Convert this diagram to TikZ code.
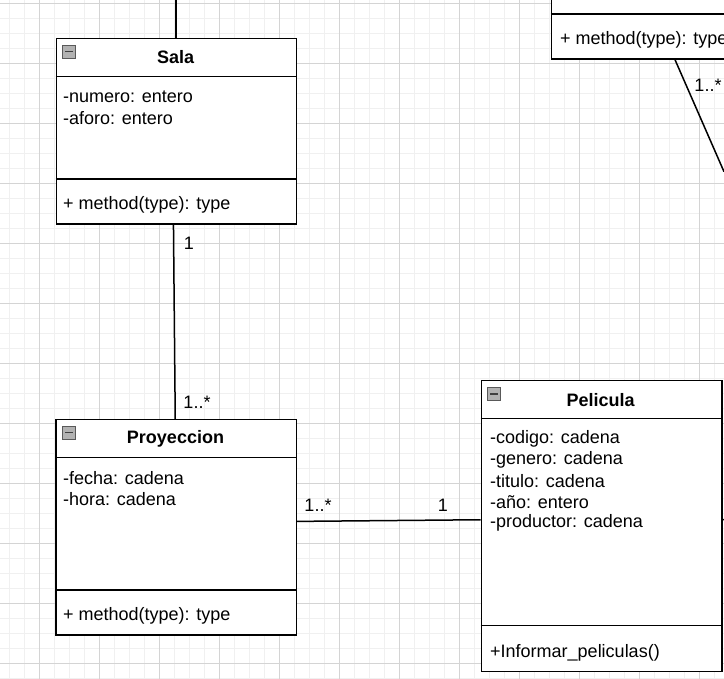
\documentclass[tikz,border=0pt]{standalone}
\usepackage{fontspec}
\setmainfont{Liberation Sans}
\begin{document}
\begin{tikzpicture}[x=1pt,y=-1pt,
  minorgrid/.style={draw=black!6, line width=0.8pt},
  majorgrid/.style={draw=black!17, line width=0.8pt},
  cls/.style={draw=black, line width=1.5pt, fill=white, rectangle, inner sep=0pt, anchor=north west},
  sep/.style={draw=black, line width=1.5pt},
  ttl/.style={font=\fontsize{18}{21.6}\selectfont\bfseries, inner sep=0pt},
  txt/.style={font=\fontsize{18}{21.6}\selectfont, anchor=west, inner sep=0pt},
  lbl/.style={font=\fontsize{18}{21.6}\selectfont, inner sep=0pt},
  conn/.style={draw=black, line width=1.5pt},
  icon/.style={draw=black!65, fill=black!30, line width=0.8pt, rectangle, minimum size=13pt, inner sep=0pt,
    path picture={\draw[black!75, line width=1.6pt] ([xshift=2.5pt]path picture bounding box.west) -- ([xshift=-2.5pt]path picture bounding box.east);}}
]
\useasboundingbox (0,0) rectangle (724,679);
\clip (0,0) rectangle (724,679);
\fill[white] (0,0) rectangle (724,679);
% grid
\foreach \x in {9.3,24.3,...,724} \draw[minorgrid] (\x,0) -- (\x,679);
\foreach \y in {3.3,18.3,...,679} \draw[minorgrid] (0,\y) -- (724,\y);
\foreach \x in {39.3,99.3,...,724} \draw[majorgrid] (\x,0) -- (\x,679);
\foreach \y in {3.3,63.3,...,679} \draw[majorgrid] (0,\y) -- (724,\y);

% ---- top-right class (partly off canvas)
\node[cls, minimum width=250pt, minimum height=108.3pt] (tr) at (550.7,-50) {};
\draw[sep] (550.7,14) -- (800,14);
\node[txt] (trM) at (560,40) {+ method(type): type};

% ---- Sala
\node[cls, minimum width=240pt, minimum height=185.5pt] (sala) at (55.7,37.7) {};
\draw[sep] (55.7,76.7) -- (295.7,76.7);
\draw[sep] (55.7,179) -- (295.7,179);
\node[icon] (salaI) at (69.3,51.7) {};
\node[ttl] (salaT) at (175.7,57.5) {Sala};
\node[txt] (salaA1) at (63,97) {-numero: entero};
\node[txt] (salaA2) at (63,118) {-aforo: entero};
\node[txt] (salaM) at (63,205) {+ method(type): type};

% ---- Proyeccion
\node[cls, minimum width=240.4pt, minimum height=215.3pt] (proy) at (55.3,419) {};
\draw[sep] (55.3,457.7) -- (295.7,457.7);
\draw[sep] (55.3,590) -- (295.7,590);
\node[icon] (proyI) at (69.3,432.5) {};
\node[ttl] (proyT) at (175.5,438.5) {Proyeccion};
\node[txt] (proyA1) at (63,478.3) {-fecha: cadena};
\node[txt] (proyA2) at (63,499) {-hora: cadena};
\node[txt] (proyM) at (63,616) {+ method(type): type};

% ---- Pelicula
\node[cls, minimum width=240.3pt, minimum height=290.7pt] (pel) at (480.7,380) {};
\draw[sep] (480.7,418.7) -- (721,418.7);
\draw[sep] (480.7,625.7) -- (721,625.7);
\node[icon] (pelI) at (494,394) {};
\node[ttl] (pelT) at (600.7,400) {Pelicula};
\node[txt] (pelA1) at (490,439.3) {-codigo: cadena};
\node[txt] (pelA2) at (490,460.2) {-genero: cadena};
\node[txt] (pelA3) at (490,481.1) {-titulo: cadena};
\node[txt] (pelA4) at (490,502.2) {-año: entero};
\node[txt] (pelA5) at (490,523.2) {-productor: cadena};
\node[txt] (pelM) at (490,652.7) {+Informar\_peliculas()};

% ---- connectors
\coordinate (topA) at (176,0);
\draw[conn] (topA) -- (topA |- sala.north);

\draw[conn] ([xshift=-3pt]sala.south) -- ([xshift=-1pt]proy.north);
\node[lbl] (l1) at (189,243) {1};
\node[lbl] (l2) at (197,402.5) {1..*};

\draw[conn] ([yshift=6pt]proy.east) -- ([yshift=6.35pt]pel.west);
\node[lbl] (l3) at (318,505) {1..*};
\node[lbl] (l4) at (443,505) {1};

\coordinate (stubR) at (740,519);
\draw[conn] ([yshift=6.35pt]pel.east) -- (stubR);

\coordinate (trEnd) at (724,171.7);
\draw[conn] ([xshift=-1.4pt]tr.south) -- (trEnd);
\node[lbl] (l5) at (708,85) {1..*};
\end{tikzpicture}
\end{document}
